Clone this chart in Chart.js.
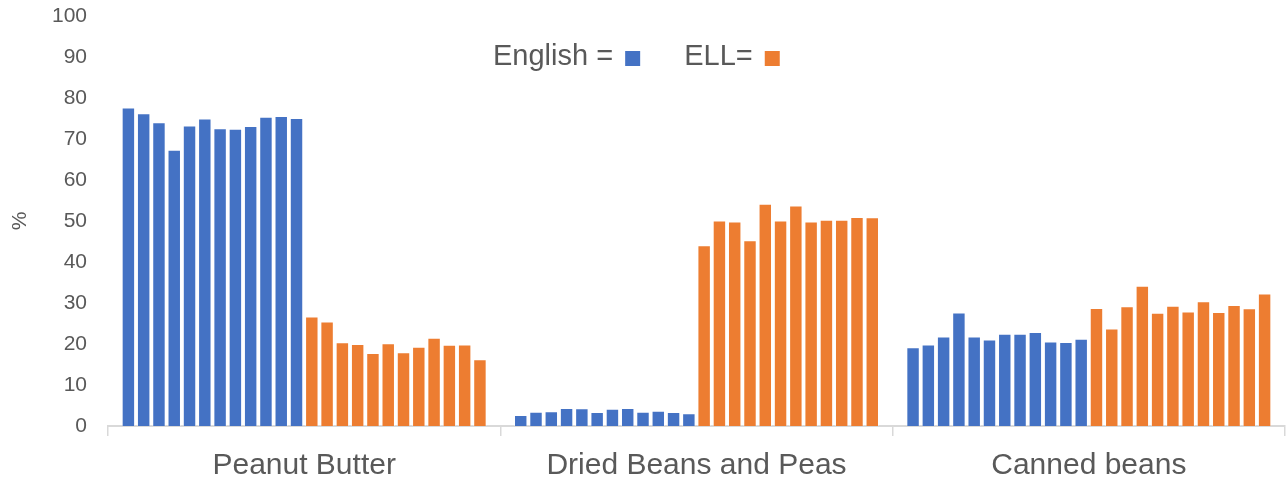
<!DOCTYPE html>
<html>
<head>
  <meta charset="utf-8">
  <title>English vs ELL responses</title>
  <script src="https://cdn.jsdelivr.net/npm/chart.js"></script>
  <style>
    html, body {
      margin: 0;
      padding: 0;
      background: #ffffff;
    }
    #chartContainer {
      position: relative;
      width: 1288px;
      height: 482px;
    }
  </style>
</head>
<body>
  <div id="chartContainer">
    <canvas id="myChart"></canvas>
  </div>
  <script>
    const categories = ['Peanut Butter', 'Dried Beans and Peas', 'Canned beans'];

    // 12 bars per language group in each category (values in %)
    const englishPeanut = [77.7, 76.3, 74.1, 67.4, 73.3, 75.0, 72.6, 72.5, 73.2, 75.4, 75.6, 75.1];
    const englishDried  = [2.7, 3.5, 3.6, 4.4, 4.3, 3.4, 4.2, 4.4, 3.5, 3.7, 3.4, 3.1];
    const englishCanned = [19.2, 19.9, 21.8, 27.7, 21.8, 21.1, 22.5, 22.5, 22.9, 20.6, 20.5, 21.3];

    const ellPeanut = [26.7, 25.5, 20.4, 20.0, 17.8, 20.2, 18.0, 19.3, 21.5, 19.8, 19.9, 16.3];
    const ellDried  = [44.1, 50.1, 49.9, 45.3, 54.2, 50.1, 53.8, 49.9, 50.3, 50.3, 51.0, 50.9];
    const ellCanned = [28.8, 23.8, 29.2, 34.2, 27.6, 29.3, 27.9, 30.4, 27.8, 29.5, 28.7, 32.3];

    const yTicks = [0, 10, 20, 30, 40, 50, 60, 70, 80, 90, 100];

    const blue = '#4472C4';
    const orange = '#ED7D31';
    const textColor = '#595959';
    const fontFamily = '"Liberation Sans", Arial, sans-serif';

    // one dataset per bar position, English first then ELL
    const datasets = [];
    for (let i = 0; i < englishPeanut.length; i++) {
      datasets.push({
        label: 'English ' + (i + 1),
        data: [englishPeanut[i], englishDried[i], englishCanned[i]],
        backgroundColor: blue,
        borderColor: 'rgba(255,255,255,0.35)',
        borderWidth: 1
      });
    }
    for (let i = 0; i < ellPeanut.length; i++) {
      datasets.push({
        label: 'ELL ' + (i + 1),
        data: [ellPeanut[i], ellDried[i], ellCanned[i]],
        backgroundColor: orange,
        borderColor: 'rgba(255,255,255,0.35)',
        borderWidth: 1
      });
    }

    // legend drawn inside the plot: text followed by the colour square
    const legendItems = [
      { text: 'English = ', color: blue },
      { text: 'ELL= ', color: orange }
    ];
    const inlineLegend = {
      id: 'inlineLegend',
      afterDraw(chart) {
        const ctx = chart.ctx;
        const area = chart.chartArea;
        ctx.save();
        ctx.font = '29px ' + fontFamily;
        ctx.textBaseline = 'middle';
        let x = area.left + 385;
        const y = area.top + 41;
        legendItems.forEach(item => {
          ctx.fillStyle = textColor;
          ctx.fillText(item.text, x, y);
          x += ctx.measureText(item.text).width + 4;
          ctx.fillStyle = item.color;
          ctx.fillRect(x, y - 6, 15, 15);
          x += 15 + 44;
        });
        ctx.restore();
      }
    };

    const ctx = document.getElementById('myChart').getContext('2d');
    const chart = new Chart(ctx, {
      type: 'bar',
      data: {
        labels: categories,
        datasets: datasets
      },
      options: {
        responsive: true,
        maintainAspectRatio: false,
        animation: false,
        layout: {
          padding: { top: 16, right: 3, left: 0, bottom: 0 }
        },
        datasets: {
          bar: {
            categoryPercentage: 0.935,
            barPercentage: 0.88
          }
        },
        plugins: {
          legend: { display: false },
          tooltip: { enabled: false }
        },
        scales: {
          x: {
            offset: true,
            grid: {
              display: true,
              offset: true,
              drawOnChartArea: false,
              drawTicks: true,
              tickLength: 10,
              color: '#d9d9d9',
              lineWidth: 1.5
            },
            border: { display: true, color: '#d9d9d9', width: 2 },
            ticks: {
              color: textColor,
              font: { family: fontFamily, size: 30 },
              padding: 12
            },
            afterFit(scale) {
              scale.height = 56;
            }
          },
          y: {
            min: 0,
            max: 100,
            afterBuildTicks(scale) {
              scale.ticks = yTicks.map(v => ({ value: v }));
            },
            grid: { display: false, drawTicks: false },
            border: { display: false },
            ticks: {
              color: textColor,
              font: { family: fontFamily, size: 21 },
              padding: 21
            },
            title: {
              display: true,
              text: '%',
              color: textColor,
              font: { family: fontFamily, size: 21 },
              padding: { top: 8, bottom: 0 }
            },
            afterFit(scale) {
              scale.width = 108;
              scale.paddingTop = 0;
              scale.paddingBottom = 0;
            }
          }
        }
      },
      plugins: [inlineLegend]
    });
  </script>
</body>
</html>
